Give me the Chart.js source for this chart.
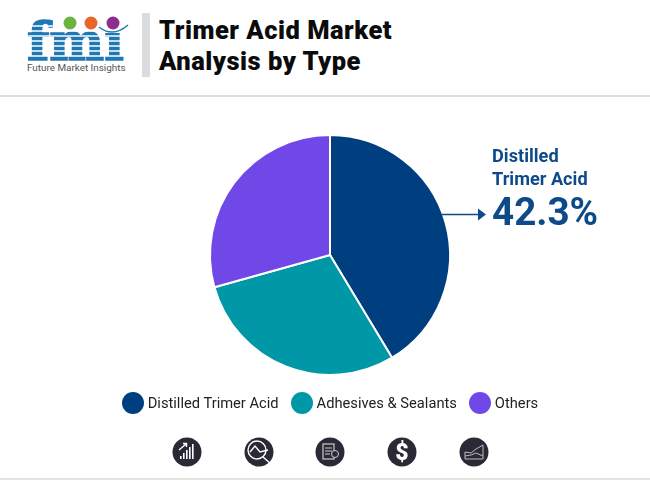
<!DOCTYPE html>
<html>
<head>
<meta charset="utf-8">
<style>
  html, body { margin: 0; padding: 0; background: #fff; }
  body { width: 650px; height: 480px; position: relative; overflow: hidden; font-family: Roboto, sans-serif; }
  .abs { position: absolute; }
  #title { left: 159px; top: 15px; font-size: 25.5px; line-height: 31px; font-weight: 900; letter-spacing: 0.5px; color: #0b0b0b; white-space: nowrap; }
  #bar { left: 142px; top: 13px; width: 8px; height: 64px; background: #dcdcdc; }
  #rule { left: 0; top: 95px; width: 650px; height: 2px; background: #dedede; }
  #foot { left: 0; top: 478px; width: 650px; height: 2px; background: #e4e4e4; }
  #callout { left: 492px; top: 145px; color: #0d4a8a; font-weight: 700; font-size: 18.2px; line-height: 22.5px; }
  #pct { left: 492px; top: 191px; color: #0d4a8a; font-weight: 700; font-size: 38.6px; line-height: 42px; }
  #brand { left: 27px; top: 62px; font-size: 9.9px; color: #555; white-space: nowrap; }
  #legend { left: 122px; top: 391.5px; display: flex; font-size: 14.7px; line-height: 22px; color: #222; white-space: nowrap; }
  #legend .item { display: flex; margin-right: 12.3px; }
  #legend .dot { width: 22px; height: 22px; border-radius: 50%; margin-right: 3.7px; }
  canvas { position: absolute; left: 0; top: 0; }
</style>
</head>
<body>
<svg class="abs" style="left:0;top:0" width="140" height="70">
  <text x="27" y="60" font-family="DejaVu Serif" font-weight="700" font-size="52" fill="#1f77b4" stroke="#1f77b4" stroke-width="1.6" textLength="97" lengthAdjust="spacingAndGlyphs">fmi</text>
  <g stroke="#fff" stroke-width="1.3">
    <line x1="20" x2="130" y1="26" y2="26"/><line x1="20" x2="130" y1="31" y2="31"/>
    <line x1="20" x2="130" y1="36" y2="36"/><line x1="20" x2="130" y1="41" y2="41"/>
    <line x1="20" x2="130" y1="46" y2="46"/><line x1="20" x2="130" y1="51" y2="51"/>
    <line x1="20" x2="130" y1="56" y2="56"/>
  </g>
  <rect x="96" y="10" width="34" height="23" fill="#fff"/>
  <circle cx="70" cy="23" r="6.5" fill="#6cb33f"/>
  <circle cx="91" cy="23" r="6.5" fill="#e8662a"/>
  <circle cx="113" cy="23" r="6.5" fill="#8e2c8f"/>
  <path d="M99 27 Q113 38 128 25" fill="none" stroke="#1f77b4" stroke-width="1.4"/>
</svg>
<div class="abs" id="brand">Future Market Insights</div>
<div class="abs" id="bar"></div>
<div class="abs" id="title">Trimer Acid Market<br>Analysis by Type</div>
<div class="abs" id="rule"></div>
<div class="abs" id="foot"></div>
<canvas id="typeChart" width="650" height="480"></canvas>
<div class="abs" id="callout">Distilled<br>Trimer Acid</div>
<div class="abs" id="pct">42.3%</div>
<div class="abs" id="legend"></div>
<svg class="abs" style="left:0;top:0" width="650" height="480">
  <line x1="442" x2="480" y1="214.5" y2="214.5" stroke="#0d4a8a" stroke-width="1.5"/>
  <path d="M478 208.5 L486 214.5 L478 220.5 Z" fill="#0d4a8a"/>
  <g fill="#2a2a36">
    <circle cx="187" cy="452" r="14.5"/><circle cx="259" cy="452" r="14.5"/>
    <circle cx="330" cy="452" r="14.5"/><circle cx="402" cy="452" r="14.5"/>
    <circle cx="474" cy="452" r="14.5"/>
  </g>
  <g fill="#fff">
    <rect x="180" y="456" width="1.6" height="3"/><rect x="183" y="453" width="1.6" height="6"/>
    <rect x="186" y="450" width="1.6" height="9"/><rect x="189" y="447" width="1.6" height="12"/>
    <rect x="192" y="444" width="1.6" height="15"/>
  </g>
  <path d="M179 450 L186 444 M183 443.5 H186.5 V447" stroke="#fff" stroke-width="1.4" fill="none"/>
  <circle cx="257" cy="450" r="9" fill="none" stroke="#fff" stroke-width="1.4"/>
  <path d="M250 452 L255 446 L260 452 L268 450 M263 457 L271 464" stroke="#fff" stroke-width="1.4" fill="none"/>
  <rect x="323" y="444" width="11" height="15" fill="none" stroke="#ccc" stroke-width="1.2"/>
  <path d="M325 448 H332 M325 451 H332 M325 454 H330" stroke="#ccc" stroke-width="1"/>
  <circle cx="335" cy="454" r="3.5" fill="#2a2a36" stroke="#ccc" stroke-width="1"/>
  <text x="402" y="460" text-anchor="middle" font-family="Roboto" font-weight="900" font-size="23" fill="#fff">$</text>
  <path d="M465 459 V452 L471 453 L476 449 L483 445 V459 Z" fill="none" stroke="#bbb" stroke-width="1"/>
  <path d="M465 456 L471 455 L476 453 L483 456" fill="none" stroke="#bbb" stroke-width="1"/>
</svg>
<script src="https://cdn.jsdelivr.net/npm/chart.js@4"></script>
<script>
// values
const categories = ['Distilled Trimer Acid', 'Adhesives & Sealants', 'Others'];
const shares = [42.3, 30, 30];
const sliceColors = ['#003f7f', '#0097a7', '#7048e8'];

document.addEventListener('DOMContentLoaded', function() {
    const ctx = document.getElementById('typeChart').getContext('2d');
    new Chart(ctx, {
        type: 'pie',
        data: {
            labels: categories,
            datasets: [{
                data: shares,
                backgroundColor: sliceColors,
                borderColor: '#ffffff',
                borderWidth: 2
            }]
        },
        options: {
            responsive: false,
            animation: false,
            // pie centre sits at 330,255 with radius 120
            layout: { padding: { top: 134, bottom: 104, left: 209, right: 199 } },
            plugins: {
                tooltip: { enabled: false },
                legend: { display: false }
            }
        }
    });

    // legend circles are bigger than the built-in legend allows
    const legend = document.getElementById('legend');
    categories.forEach(function(name, i) {
        const item = document.createElement('div');
        item.className = 'item';
        const dot = document.createElement('div');
        dot.className = 'dot';
        dot.style.background = sliceColors[i];
        const label = document.createElement('span');
        label.textContent = name;
        item.appendChild(dot);
        item.appendChild(label);
        legend.appendChild(item);
    });
});
</script>
</body>
</html>
